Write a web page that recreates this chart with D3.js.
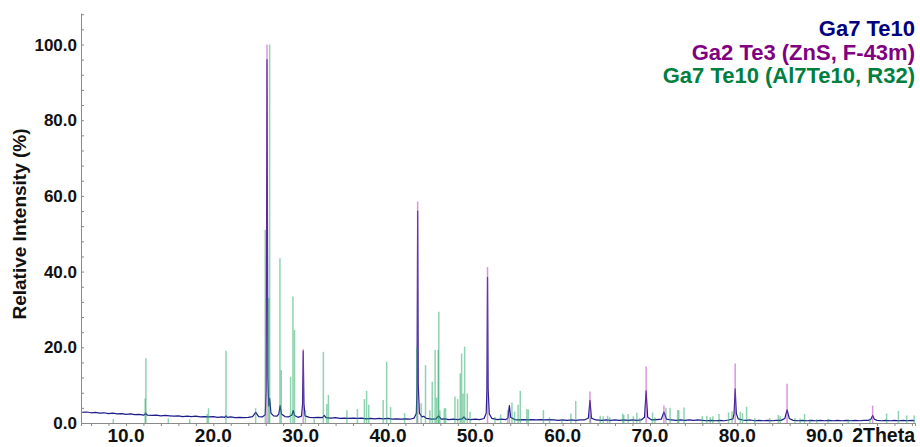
<!DOCTYPE html>
<html>
<head>
<meta charset="utf-8">
<script src="https://cdn.jsdelivr.net/npm/d3@7"></script>
<style>
  html, body { margin: 0; padding: 0; background: #fff; }
  svg { display: block; font-family: "Liberation Sans", Arial, sans-serif; }
</style>
</head>
<body>
<svg id="chart" width="920" height="447"></svg>
<script>
// measured pattern, Ga7 Te10 : [2theta, relative intensity %]
var measured = [
  [5.0,2.8],[5.5,2.9],[6.0,2.7],[6.5,2.8],[7.0,2.6],[7.5,2.7],[8.0,2.5],[8.5,2.6],[9.0,2.4],[9.5,2.5],
  [10.0,2.3],[10.5,2.4],[11.0,2.2],[11.5,2.3],[12.0,2.1],[12.15,2.2],[12.25,2.7],[12.35,2.2],[12.5,2.1],[13.0,2.0],[13.5,2.1],[14.0,1.9],[14.5,2.0],
  [15.0,1.9],[15.5,1.8],[16.0,1.9],[16.5,1.7],[17.0,1.8],[17.5,1.7],[18.0,1.8],[18.5,1.6],[19.0,1.7],[19.5,1.6],
  [20.0,1.7],[20.5,1.5],[21.0,1.6],[21.3,1.5],[21.45,1.9],[21.6,1.5],[22.0,1.6],[22.5,1.4],[23.0,1.5],[23.5,1.4],[24.0,1.5],[24.5,1.7],[24.85,2.8],[25.2,1.7],[25.6,1.6],
  [25.95,2.2],[26.05,9],[26.15,96],[26.25,12],[26.35,4.5],[26.45,6.5],[26.6,2.6],[26.9,1.9],[27.3,1.8],[27.5,2.4],[27.65,4.6],[27.8,2.4],[28.2,1.7],[28.6,1.6],[29.0,2.1],[29.15,3.3],[29.3,2.0],[29.7,1.5],
  [30.1,1.8],[30.22,5],[30.3,19],[30.38,5],[30.5,1.9],[31.0,1.5],[31.5,1.4],[32.0,1.5],[32.5,1.4],[32.7,2.0],[32.9,1.4],[33.5,1.3],[34.0,1.4],[34.5,1.2],
  [35.0,1.3],[35.5,1.2],[36.0,1.3],[36.5,1.2],[37.0,1.3],[37.5,1.1],[38.0,1.2],[38.5,1.1],[39.0,1.2],[39.5,1.1],
  [40.0,1.2],[40.5,1.0],[41.0,1.1],[41.5,1.0],[42.0,1.1],[42.5,1.0],[43.0,1.3],[43.25,2.5],[43.33,10],[43.4,56],[43.47,10],[43.6,2.6],[43.9,1.6],[44.1,1.8],[44.4,1.2],
  [45.0,1.0],[45.5,1.1],[45.8,1.9],[46.1,1.0],[46.5,1.1],[47.0,0.9],[47.5,1.0],[48.0,0.9],[48.5,1.1],[48.7,1.6],[48.9,1.0],[49.5,0.9],
  [50.0,1.0],[50.5,0.9],[51.0,1.2],[51.25,2.6],[51.33,9],[51.4,38.5],[51.47,9],[51.6,2.4],[51.9,1.2],[52.5,0.9],[53.0,1.0],[53.5,0.9],[53.75,1.4],[53.9,4.6],[54.05,1.5],[54.5,0.9],
  [55.0,0.8],[55.5,0.9],[56.0,0.8],[56.5,0.9],[57.0,0.8],[57.5,0.9],[58.0,0.8],[58.5,0.9],[59.0,0.8],[59.5,0.7],
  [60.0,0.8],[60.5,0.7],[61.0,0.8],[61.5,0.7],[62.0,0.8],[62.5,0.8],[62.95,1.3],[63.13,6],[63.3,1.3],[63.8,0.8],[64.5,0.7],
  [65.0,0.8],[65.5,0.7],[66.0,0.8],[66.5,0.7],[67.0,0.8],[67.5,0.7],[68.0,0.8],[68.5,0.7],[69.0,0.8],[69.38,1.5],[69.56,8.5],[69.74,1.5],
  [70.2,0.8],[70.8,0.9],[71.3,1.0],[71.6,2.9],[71.9,1.0],[72.4,0.8],[73.0,0.7],[73.5,0.8],[74.0,0.7],[74.5,0.8],
  [75.0,0.7],[75.5,0.8],[76.0,0.7],[76.5,0.6],[77.0,0.7],[77.5,0.6],[78.0,0.7],[78.5,0.6],[79.0,0.8],[79.5,1.1],[79.63,2.5],[79.76,9],[79.89,2.5],
  [80.1,1.1],[80.6,0.8],[81.0,0.7],[81.5,0.8],[82.0,0.6],[82.5,0.7],[83.0,0.6],[83.5,0.7],[84.0,0.6],[84.5,0.7],
  [85.0,0.7],[85.45,1.2],[85.7,3.5],[85.95,1.2],[86.4,0.7],[87.0,0.6],[87.5,0.7],[88.0,0.6],[88.5,0.7],[89.0,0.6],[89.5,0.7],
  [90.0,0.6],[90.5,0.7],[91.0,0.6],[91.5,0.7],[92.0,0.6],[92.5,0.7],[93.0,0.6],[93.5,0.7],[94.0,0.6],[94.5,0.7],
  [95.0,0.7],[95.3,1.0],[95.5,2.0],[95.7,1.0],[96.0,0.7],[96.5,0.6],[97.0,0.7],[97.5,0.6],[98.0,0.7],[98.5,0.6],[99.0,0.7],[99.5,0.6],[100.0,0.7],[100.3,0.6]
];

// reference pattern Ga2 Te3 (ZnS, F-43m)
var ga2te3 = [
  [26.15,100],[30.3,19.5],[43.4,58.5],[51.4,41.2],[53.9,3],[63.13,8.3],[69.56,14.9],
  [71.6,4.6],[79.76,15.7],[85.7,10.4],[95.5,4.6]
];

// reference pattern Ga7 Te10 (Al7Te10, R32)
var ga7te10 = [
  [8.55,1.1],[12.2,6.5],[12.28,17.1],[14.85,1.2],[17.3,1.0],[19.3,2.4],[19.45,3.9],[21.45,19.1],
  [24.85,3.9],[25.95,51],[26.35,33],[26.45,100],[27.63,43.5],[27.78,14],[28.85,12.2],[29.12,33.4],[29.3,24.6],
  [30.55,3.4],[31.56,1.0],[32.6,18.8],[33.0,5],[33.18,7.4],[35.3,3.4],[36.5,3.7],[37.3,6.3],[37.55,8.5],[37.8,4.8],
  [39.45,6.1],[39.85,16.2],[40.3,4.2],[41.9,2.6],[43.3,19.8],[43.8,5.2],[44.3,15.3],[44.8,3.4],[45.07,10.9],
  [45.4,19.3],[45.57,6.7],[45.75,19.3],[45.82,29.4],[45.95,3.4],[46.45,3.9],[46.6,3.9],[47.67,7],[47.98,6.3],
  [48.28,13.1],[48.43,18.4],[48.6,7.8],[48.78,20.2],[49.08,7.8],[49.4,3],[52.25,1.6],[52.9,2.3],[53.7,3.4],
  [54.2,5.4],[54.5,3],[54.9,4.8],[55.15,8.5],[55.9,3.6],[56.07,3.6],[57.8,3.4],[58.5,1.5],[59.9,1.0],[60.95,2.5],
  [61.5,5.8],[63.2,2.0],[64.3,1.9],[64.65,1.8],[65.15,1.9],[65.4,1.5],[66.87,2.5],[67.0,2.1],[67.5,2.4],[68.1,1.8],
  [68.5,2.7],[68.85,1.3],[70.3,2.8],[70.57,1.5],[71.83,4],[72.3,4],[73.17,3.4],[73.3,3.4],[73.9,4.1],[76.0,1.8],
  [76.5,1.9],[76.9,1.6],[77.2,1.8],[77.9,2.4],[79.0,2.8],[79.4,3.1],[80.35,3.0],[80.6,2.6],[81.07,4.3],[82.0,1.3],
  [83.7,1.3],[84.7,2.1],[84.9,1.8],[86.6,1.3],[87.2,1.2],[87.7,2.4],[88.3,1.0],[89.1,1.0],[90.4,1.1],[92.7,1.0],
  [95.2,1.2],[97.1,2.5],[98.45,3.2],[99.4,2.0],[100.25,2.0]
];

var xTicks = [10, 20, 30, 40, 50, 60, 70, 80, 90];
var yTicks = [0, 20, 40, 60, 80, 100];
var legendLabels = ["Ga7 Te10", "Ga2 Te3 (ZnS, F-43m)", "Ga7 Te10 (Al7Te10, R32)"];
var legendColors = ["#000080", "#800080", "#008040"];

var svg = d3.select("#chart");

var x = d3.scaleLinear().domain([4.85, 100.35]).range([81, 915]);
var y = d3.scaleLinear().domain([0, 100]).range([423, 44.5]);
var yTop = 13;

// sticks go on top of the measured line
var line = d3.line().x(d => x(d[0])).y(d => y(d[1]));

svg.append("path")
  .datum(measured)
  .attr("d", line)
  .attr("fill", "none")
  .attr("stroke", "#1c1c8c")
  .attr("stroke-width", 1.2)
  .attr("stroke-linejoin", "round");

svg.append("g").selectAll("line")
  .data(ga7te10).join("line")
  .attr("x1", d => x(d[0])).attr("x2", d => x(d[0]))
  .attr("y1", y(0)).attr("y2", d => y(d[1]))
  .attr("stroke", "#22a862")
  .attr("stroke-opacity", 0.5)
  .attr("stroke-width", 1.5);

svg.append("g").selectAll("line")
  .data(ga2te3).join("line")
  .attr("x1", d => x(d[0])).attr("x2", d => x(d[0]))
  .attr("y1", y(0)).attr("y2", d => y(d[1]))
  .attr("stroke", "#c23cc2")
  .attr("stroke-opacity", 0.55)
  .attr("stroke-width", 1.5);

// axes
var axisColor = "#8a8a8a";
var gx = svg.append("g")
  .attr("transform", "translate(0," + y(0) + ")")
  .call(d3.axisBottom(x).tickValues(d3.range(6, 101, 2)).tickSize(3).tickFormat(""));
gx.select(".domain").attr("stroke", axisColor);
gx.selectAll(".tick line").attr("stroke", axisColor);

var gy = svg.append("g")
  .attr("transform", "translate(81,0)")
  .call(d3.axisRight(y.copy().domain([0, y.invert(yTop)]).range([423, yTop]))
    .tickValues(d3.range(0, 108.1, 4)).tickSize(3).tickFormat("").tickSizeOuter(0));
gy.select(".domain").attr("stroke", axisColor);
gy.selectAll(".tick line").attr("stroke", axisColor);

svg.append("g").selectAll("text")
  .data(xTicks).join("text")
  .attr("x", d => x(d))
  .attr("y", 442)
  .attr("text-anchor", "middle")
  .attr("font-size", 19)
  .attr("font-weight", "bold")
  .attr("fill", "#111")
  .text(d => d.toFixed(1));

svg.append("g").selectAll("text")
  .data(yTicks).join("text")
  .attr("x", 77)
  .attr("y", d => y(d))
  .attr("dy", "0.36em")
  .attr("text-anchor", "end")
  .attr("font-size", 17)
  .attr("font-weight", "bold")
  .attr("fill", "#111")
  .text(d => d.toFixed(1));

svg.append("text")
  .attr("x", 915)
  .attr("y", 442)
  .attr("text-anchor", "end")
  .attr("font-size", 19.5)
  .attr("font-weight", "bold")
  .attr("fill", "#111")
  .text("2Theta");

svg.append("text")
  .attr("transform", "translate(26,224) rotate(-90)")
  .attr("text-anchor", "middle")
  .attr("font-size", 19)
  .attr("font-weight", "bold")
  .attr("fill", "#111")
  .text("Relative Intensity (%)");

svg.append("g").selectAll("text")
  .data(legendLabels).join("text")
  .attr("x", 915)
  .attr("y", (d, i) => 36 + i * 23.5)
  .attr("text-anchor", "end")
  .attr("font-size", 22)
  .attr("font-weight", "bold")
  .attr("fill", (d, i) => legendColors[i])
  .text(d => d);
</script>
</body>
</html>
